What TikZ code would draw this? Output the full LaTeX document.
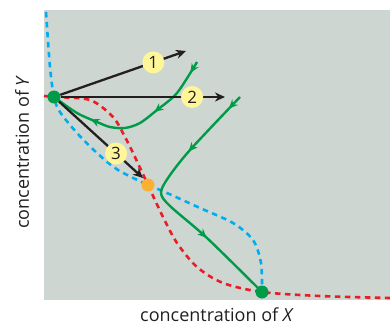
\documentclass[tikz,border=0pt]{standalone}
\usepackage{fontspec}
\setmainfont{Open Sans}
\usepackage{xcolor}
\usetikzlibrary{positioning,arrows.meta,decorations.markings}

\definecolor{panel}{RGB}{205,214,209}
\definecolor{trajgreen}{RGB}{0,155,72}
\definecolor{nullred}{RGB}{237,28,36}
\definecolor{nullblue}{RGB}{0,174,239}
\definecolor{saddle}{RGB}{251,176,52}
\definecolor{tag}{RGB}{255,246,153}
\definecolor{ink}{RGB}{35,31,32}

\begin{document}
\begin{tikzpicture}[
      x=1pt, y=-1pt,
      nullred/.style={draw=nullred, line width=2.6pt, dash pattern=on 5.5pt off 4.5pt},
      nullblue/.style={draw=nullblue, line width=2.6pt, dash pattern=on 5.5pt off 4.5pt},
      traj/.style={draw=trajgreen, line width=2.4pt, postaction={decorate}},
      dot/.style={circle, inner sep=0pt, minimum size=13pt},
      num/.style={circle, fill=tag, inner sep=0pt, minimum size=22pt, font=\fontsize{17}{17}\selectfont, text=ink},
      kick/.style={-{Stealth[length=10pt, width=9pt]}, draw=ink, line width=2.3pt},
      flow/.style={decoration={markings, mark=at position #1 with {\arrow{Stealth[length=9pt, width=8pt, inset=3pt]}}}}
  ]
    \useasboundingbox (0,0) rectangle (390,326);
    \fill[panel] (44,10) rectangle (390,300);
    \coordinate (hi) at (54,97);
    \coordinate (mid) at (148,185);
    \coordinate (lo) at (262,292);
    % nullclines
    \draw[nullred] plot[smooth] coordinates {(44,96) (hi) (90,100) (113,117) (125,137) (134,155) (mid)};
    \draw[nullred] plot[smooth] coordinates {(mid) (163,217) (177,243) (197,267) (223,283) (lo) (320,296) (390,298)};
    \draw[nullblue] plot[smooth] coordinates {(46,12) (50,67) (hi) (60,112) (77,133) (97,153) (118,170) (mid)};
    \draw[nullblue] plot[smooth] coordinates {(mid) (167,193) (200,208) (233,223) (253,240) (261,263) (lo)};
    % trajectories
    \draw[traj, flow/.list={0.07,0.37,0.76}] plot[smooth] coordinates {(197,62) (177,93) (157,110) (140,123) (125,128) (110,127) (97,122) (77,113) (hi)};
    \draw[traj, flow/.list={0.06,0.28,0.71}] plot[smooth] coordinates {(240,97) (190,150) (168,178) (161,193) (170,206) (207,238) (lo)};
    % steady states
    \node[dot, fill=trajgreen] (high) at (hi) {};
    \node[dot, fill=saddle] (unstable) at (mid) {};
    \node[dot, fill=trajgreen] (low) at (lo) {};
    % perturbations
    \coordinate (tip1) at (186,51);
    \coordinate (tip2) at (225,97);
    \coordinate (tip3) at (143,178);
    \draw[kick] (high) -- (tip1) node[num, pos=0.74] (one) {1};
    \draw[kick] (high) -- (tip2) node[num, pos=0.8] (two) {2};
    \draw[kick] (high) -- (tip3) node[num, pos=0.68] (three) {3};
    % axes
    \node[font=\fontsize{18}{18}\selectfont, text=ink] (xlab) at (217,315) {concentration of \textit{X}};
    \node[font=\fontsize{18}{18}\selectfont, text=ink, rotate=90] (ylab) at (22,152) {concentration of \textit{Y}};
  \end{tikzpicture}
\end{document}
